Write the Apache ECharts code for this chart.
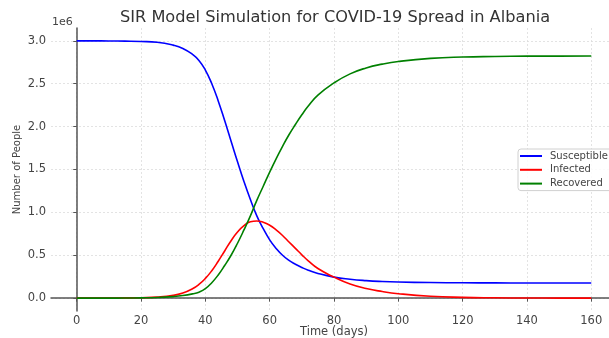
<!DOCTYPE html>
<html>
<head>
<meta charset="utf-8">
<script src="https://cdn.jsdelivr.net/npm/echarts@6/dist/echarts.min.js"></script>
<style>
  html, body { margin: 0; padding: 0; background: #fff; }
  #main { width: 609px; height: 338px; }
</style>
</head>
<body>
<div id="main"></div>
<script>
// values in millions of people (axis shows the 1e6 multiplier)
const days = [0, 5, 10, 15, 20, 25, 30, 33, 36, 38, 40, 42, 44, 46, 48, 50, 52, 54, 56, 58, 60, 62, 64, 66, 68, 70, 72, 75, 80, 85, 90, 95, 100, 110, 120, 130, 140, 150, 160];
const susceptible = [3.000, 3.000, 2.999, 2.997, 2.993, 2.983, 2.950, 2.912, 2.842, 2.772, 2.660, 2.500, 2.300, 2.070, 1.830, 1.590, 1.360, 1.150, 0.960, 0.810, 0.680, 0.580, 0.500, 0.440, 0.395, 0.357, 0.325, 0.288, 0.245, 0.220, 0.204, 0.194, 0.188, 0.182, 0.179, 0.178, 0.177, 0.177, 0.177];
const infected = [0.000, 0.0005, 0.001, 0.0025, 0.005, 0.012, 0.032, 0.060, 0.110, 0.160, 0.230, 0.320, 0.430, 0.550, 0.670, 0.770, 0.845, 0.890, 0.900, 0.885, 0.850, 0.795, 0.730, 0.655, 0.580, 0.505, 0.435, 0.345, 0.245, 0.165, 0.112, 0.077, 0.052, 0.022, 0.009, 0.004, 0.0015, 0.0006, 0.0002];
const recovered = [0.000, 0.000, 0.0005, 0.001, 0.003, 0.007, 0.018, 0.030, 0.050, 0.070, 0.110, 0.180, 0.270, 0.380, 0.500, 0.640, 0.795, 0.960, 1.140, 1.305, 1.470, 1.625, 1.770, 1.905, 2.025, 2.138, 2.240, 2.367, 2.510, 2.615, 2.684, 2.729, 2.760, 2.796, 2.812, 2.818, 2.8215, 2.8225, 2.823];
const xTicks = [0, 20, 40, 60, 80, 100, 120, 140, 160];
const yTicks = [0, 0.5, 1.0, 1.5, 2.0, 2.5, 3.0];

const FONT = 'DejaVu Sans';
const chart = echarts.init(document.getElementById('main'));

function pairs(vals) {
  return days.map((d, i) => [d, vals[i]]);
}

function lineSeries(name, color, vals) {
  return {
    name: name,
    type: 'line',
    data: pairs(vals),
    showSymbol: false,
    smooth: 0.5,
    lineStyle: { color: color, width: 1.6 },
    itemStyle: { color: color }
  };
}

const option = {
  animation: false,
  textStyle: { fontFamily: FONT },
  grid: { left: 51, top: 28, width: 566, height: 283, outerBoundsMode: 'none', containLabel: false },
  graphic: [
    {
      type: 'text', x: 335, y: 18,
      style: { text: 'SIR Model Simulation for COVID-19 Spread in Albania', font: '16.2px "DejaVu Sans"', fill: '#333',
        align: 'center', verticalAlign: 'middle' }
    },
    {
      type: 'text', x: 52, y: 22,
      style: { text: '1e6', font: '11px "DejaVu Sans"', fill: '#444', verticalAlign: 'middle' }
    }
  ],
  legend: {
    orient: 'vertical',
    left: 518, top: 149,
    icon: 'rect',
    itemWidth: 22, itemHeight: 2,
    itemGap: 1.8,
    padding: [1, 6, 1, 2],
    backgroundColor: 'rgba(255,255,255,0.85)',
    borderColor: '#d0d0d0', borderWidth: 1, borderRadius: 3,
    textStyle: { fontFamily: FONT, fontSize: 10, color: '#444', lineHeight: 12, padding: [0, 0, 0, 3] },
    data: ['Susceptible', 'Infected', 'Recovered']
  },
  xAxis: {
    type: 'value', min: -8, max: 168,
    name: 'Time (days)', nameLocation: 'middle', nameGap: 15, nameMoveOverlap: false,
    nameTextStyle: { fontFamily: FONT, fontSize: 11.5, color: '#444' },
    axisLine: { show: true, lineStyle: { color: '#555', width: 1.5 } },
    axisTick: { show: true, length: 3.5, lineStyle: { color: '#555' }, customValues: xTicks },
    axisLabel: { customValues: xTicks, fontFamily: FONT, fontSize: 11.5, color: '#444', margin: 4 },
    splitLine: { show: true, lineStyle: { color: '#dcdcdc', type: [2, 2], width: 0.8 } }
  },
  yAxis: {
    type: 'value', min: -0.15, max: 3.15,
    name: 'Number of People', nameLocation: 'middle', nameGap: 29, nameMoveOverlap: false,
    nameTextStyle: { fontFamily: FONT, fontSize: 10, color: '#444' },
    axisLine: { show: true, lineStyle: { color: '#555', width: 1.5 } },
    axisTick: { show: true, length: 3.5, lineStyle: { color: '#555' }, customValues: yTicks },
    axisLabel: { customValues: yTicks, fontFamily: FONT, fontSize: 11.5, color: '#444', margin: 5,
      formatter: v => v.toFixed(1) },
    splitLine: { show: true, lineStyle: { color: '#dcdcdc', type: [2, 2], width: 0.8 } }
  },
  series: [
    lineSeries('Susceptible', '#0000ff', susceptible),
    lineSeries('Infected', '#ff0000', infected),
    lineSeries('Recovered', '#008000', recovered)
  ]
};

chart.setOption(option);
</script>
</body>
</html>
